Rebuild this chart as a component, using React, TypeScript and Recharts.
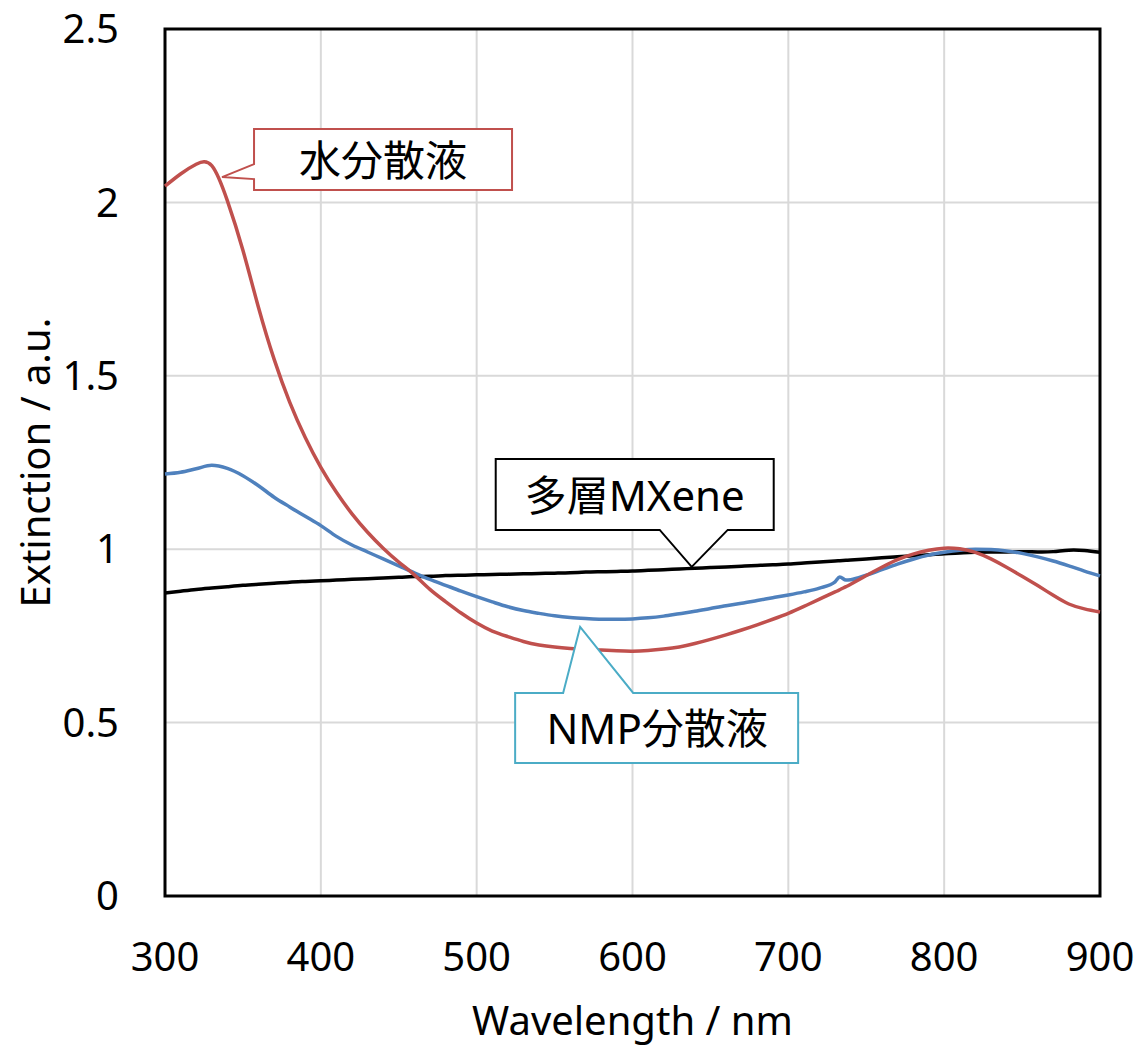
import {
  LineChart,
  Line,
  XAxis,
  YAxis,
  CartesianGrid,
  ReferenceArea,
  ReferenceDot,
  Label,
} from 'recharts';

// Extinction spectra, sampled every 10 nm (plus two extra points around the 735 nm step)
const wavelengths = [
  300, 310, 320, 330, 340, 350, 360, 370, 380, 390,
  400, 410, 420, 430, 440, 450, 460, 470, 480, 490,
  500, 510, 520, 530, 540, 550, 560, 570, 580, 590,
  600, 610, 620, 630, 640, 650, 660, 670, 680, 690,
  700, 710, 720, 730, 733, 737, 740, 750, 760, 770,
  780, 790, 800, 810, 820, 830, 840, 850, 860, 870,
  880, 890, 900,
];

const waterDispersion = [
  2.047, 2.082, 2.110, 2.106, 2.005, 1.862, 1.697, 1.548, 1.424, 1.322,
  1.236, 1.164, 1.102, 1.049, 1.003, 0.963, 0.926, 0.884, 0.849, 0.816,
  0.787, 0.764, 0.748, 0.734, 0.724, 0.718, 0.714, 0.711, 0.709, 0.707,
  0.706, 0.708, 0.712, 0.718, 0.728, 0.740, 0.753, 0.767, 0.782, 0.798,
  0.815, 0.835, 0.856, 0.877, 0.883, 0.892, 0.899, 0.924, 0.948, 0.970,
  0.986, 0.997, 1.003, 1.001, 0.991, 0.972, 0.948, 0.922, 0.895, 0.867,
  0.842, 0.828, 0.819,
];

const nmpDispersion = [
  1.217, 1.222, 1.232, 1.242, 1.233, 1.212, 1.183, 1.150, 1.122, 1.095,
  1.068, 1.037, 1.012, 0.992, 0.972, 0.952, 0.932, 0.913, 0.896, 0.879,
  0.863, 0.848, 0.834, 0.823, 0.815, 0.808, 0.803, 0.800, 0.798, 0.798,
  0.799, 0.802, 0.807, 0.814, 0.821, 0.829, 0.837, 0.844, 0.852, 0.860,
  0.868, 0.877, 0.888, 0.906, 0.920, 0.911, 0.912, 0.925, 0.941, 0.957,
  0.971, 0.983, 0.991, 0.997, 1.000, 0.999, 0.995, 0.988, 0.978, 0.966,
  0.952, 0.937, 0.923,
];

const multilayerMXene = [
  0.874, 0.879, 0.884, 0.888, 0.892, 0.896, 0.899, 0.902, 0.905, 0.907,
  0.909, 0.911, 0.913, 0.915, 0.917, 0.919, 0.921, 0.922, 0.924, 0.925,
  0.926, 0.927, 0.928, 0.929, 0.930, 0.931, 0.932, 0.934, 0.935, 0.936,
  0.937, 0.939, 0.941, 0.943, 0.945, 0.947, 0.949, 0.951, 0.953, 0.955,
  0.957, 0.960, 0.963, 0.966, 0.967, 0.968, 0.969, 0.972, 0.975, 0.978,
  0.981, 0.984, 0.987, 0.989, 0.991, 0.992, 0.992, 0.993, 0.992, 0.993,
  0.997, 0.996, 0.991,
];

const xTicks = [300, 400, 500, 600, 700, 800, 900];
const yTicks = [0, 0.5, 1, 1.5, 2, 2.5];

// anchor points (nm, extinction) where each callout pointer touches its curve
const waterAnchor = [336.6, 2.073];
const mxeneAnchor = [638, 0.949];
const nmpAnchor = [566.4, 0.776];

const data = wavelengths.map((nm, i) => ({
  nm,
  water: waterDispersion[i],
  nmp: nmpDispersion[i],
  mxene: multilayerMXene[i],
}));

const FONT = '"Noto Sans", "Noto Sans CJK JP", sans-serif';

type CalloutSpec = {
  text: string;
  color: string;
  outline: number[][];
  center: number[];
};

// draws a box-with-pointer whose pointer tip sits at (cx, cy)
function callout(spec: CalloutSpec) {
  return (props: any) => {
    const { cx, cy } = props;
    if (cx == null || cy == null) return <g />;
    const pts = spec.outline.map(([dx, dy]) => `${cx + dx},${cy + dy}`).join(' ');
    return (
      <g>
        <polygon points={pts} fill="#fff" stroke={spec.color} strokeWidth={2} />
        <text
          x={cx + spec.center[0]}
          y={cy + spec.center[1]}
          textAnchor="middle"
          dominantBaseline="central"
          fontSize={42}
          fontFamily={FONT}
          fill="#000"
        >
          {spec.text}
        </text>
      </g>
    );
  };
}

const waterCallout = callout({
  text: '水分散液',
  color: '#c0504d',
  outline: [[32, -48], [290, -48], [290, 13], [32, 13], [32, 2], [0, 0], [32, -13]],
  center: [161, -18],
});

const mxeneCallout = callout({
  text: '多層MXene',
  color: '#000000',
  outline: [[-196, -108], [82, -108], [82, -37], [36, -37], [0, 0], [-32, -37], [-196, -37]],
  center: [-57, -72],
});

const nmpCallout = callout({
  text: 'NMP分散液',
  color: '#4bacc6',
  outline: [[-65, 66], [-17, 66], [0, 0], [53, 66], [218, 66], [218, 136], [-65, 136]],
  center: [77, 101],
});

const tickStyle = { fill: '#000', fontSize: 40, fontFamily: FONT };

export default function App() {
  return (
    <div style={{ position: 'absolute', left: 0, top: 0, width: 1137, height: 1046, background: '#fff' }}>
      <LineChart
        width={1137}
        height={1046}
        data={data}
        margin={{ top: 29, right: 37, bottom: 0, left: 0 }}
        style={{ fontFamily: FONT }}
      >
        <CartesianGrid stroke="#d9d9d9" strokeWidth={2} />
        <XAxis
          dataKey="nm"
          type="number"
          domain={[300, 900]}
          ticks={xTicks}
          height={150}
          axisLine={false}
          tickLine={false}
          tickSize={0}
          tickMargin={47}
          tick={tickStyle}
          interval={0}
        >
          <Label
            content={(p: any) => {
              const vb = p.viewBox || { x: 165, y: 896, width: 935, height: 150 };
              return (
                <text
                  x={vb.x + vb.width / 2}
                  y={vb.y + 139}
                  textAnchor="middle"
                  fontSize={40}
                  fontFamily={FONT}
                  fill="#000"
                >
                  Wavelength / nm
                </text>
              );
            }}
          />
        </XAxis>
        <YAxis
          type="number"
          domain={[0, 2.5]}
          ticks={yTicks}
          width={165}
          axisLine={false}
          tickLine={false}
          tickSize={0}
          tickMargin={46}
          tick={tickStyle}
          interval={0}
        >
          <Label
            content={(p: any) => {
              const vb = p.viewBox || { x: 0, y: 29, width: 165, height: 867 };
              const x = vb.x + 50;
              const y = vb.y + vb.height / 2;
              return (
                <text
                  x={x}
                  y={y}
                  transform={`rotate(-90 ${x} ${y})`}
                  textAnchor="middle"
                  fontSize={40}
                  fontFamily={FONT}
                  fill="#000"
                >
                  Extinction / a.u.
                </text>
              );
            }}
          />
        </YAxis>
        <ReferenceArea x1={300} x2={900} y1={0} y2={2.5} fill="none" stroke="#000" strokeWidth={3} />
        <Line
          type="natural"
          dataKey="mxene"
          stroke="#000000"
          strokeWidth={3.5}
          dot={false}
          isAnimationActive={false}
        />
        <Line
          type="monotone"
          dataKey="nmp"
          stroke="#4f81bd"
          strokeWidth={3.5}
          dot={false}
          isAnimationActive={false}
        />
        <Line
          type="natural"
          dataKey="water"
          stroke="#c0504d"
          strokeWidth={3.5}
          dot={false}
          isAnimationActive={false}
        />
        <ReferenceDot x={waterAnchor[0]} y={waterAnchor[1]} shape={waterCallout} />
        <ReferenceDot x={mxeneAnchor[0]} y={mxeneAnchor[1]} shape={mxeneCallout} />
        <ReferenceDot x={nmpAnchor[0]} y={nmpAnchor[1]} shape={nmpCallout} />
      </LineChart>
    </div>
  );
}
